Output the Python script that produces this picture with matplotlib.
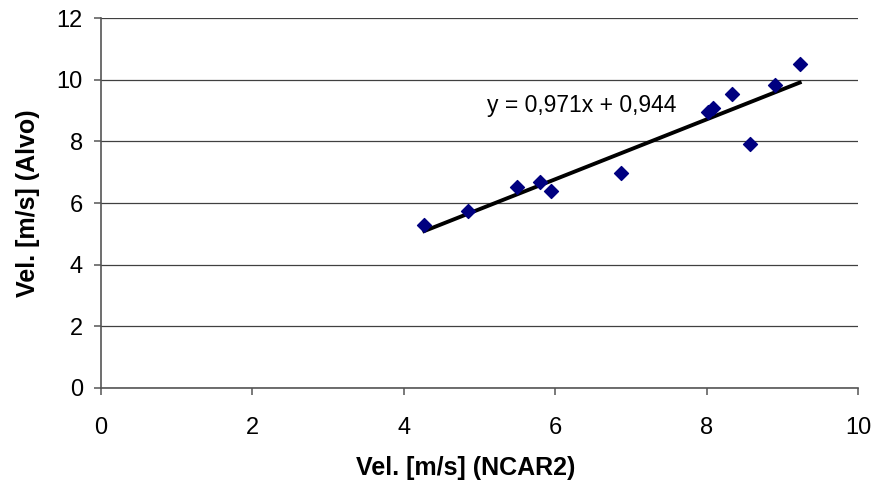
import matplotlib.pyplot as plt
import numpy as np

plt.rcParams['font.family'] = ['Liberation Sans', 'DejaVu Sans']

# data
vel_ncar2 = [4.27, 4.85, 5.50, 5.80, 5.94, 6.87, 8.02, 8.08, 8.34, 8.57, 8.90, 9.23]
vel_alvo = [5.29, 5.75, 6.53, 6.69, 6.40, 6.98, 8.96, 9.09, 9.55, 7.92, 9.84, 10.52]
slope = 0.971
intercept = 0.944

fig = plt.figure(figsize=(8.74, 4.83), dpi=100)
ax = fig.add_axes([0.1156, 0.1967, 0.8661, 0.766])

ax.set_xlim(0, 10)
ax.set_ylim(0, 12)
ax.set_xticks(np.arange(0, 11, 2))
ax.set_yticks(np.arange(0, 13, 2))
ax.yaxis.grid(True, color='#404040', linewidth=0.9)
ax.set_axisbelow(True)

for s in ['top', 'right']:
    ax.spines[s].set_visible(False)
for s in ['left', 'bottom']:
    ax.spines[s].set_color('#555555')
    ax.spines[s].set_linewidth(1.2)
ax.tick_params(axis='both', labelsize=17, length=5, color='#555555', width=1.1)
ax.tick_params(axis='x', pad=16)
ax.tick_params(axis='y', pad=8)

ax.scatter(vel_ncar2, vel_alvo, marker='D', s=50, color='#000080', zorder=3)

xfit = np.array([min(vel_ncar2), max(vel_ncar2)])
ax.plot(xfit, slope * xfit + intercept, color='black', linewidth=2.8, zorder=2)

ax.text(5.1, 8.95, 'y = 0,971x + 0,944', fontsize=16.5)

ax.set_xlabel('Vel. [m/s] (NCAR2)', fontsize=18, fontweight='bold', labelpad=12)
ax.xaxis.label.set_x(0.482)
ax.set_ylabel('Vel. [m/s] (Alvo)', fontsize=18, fontweight='bold', labelpad=12)

fig.savefig('out.png', dpi=100)
